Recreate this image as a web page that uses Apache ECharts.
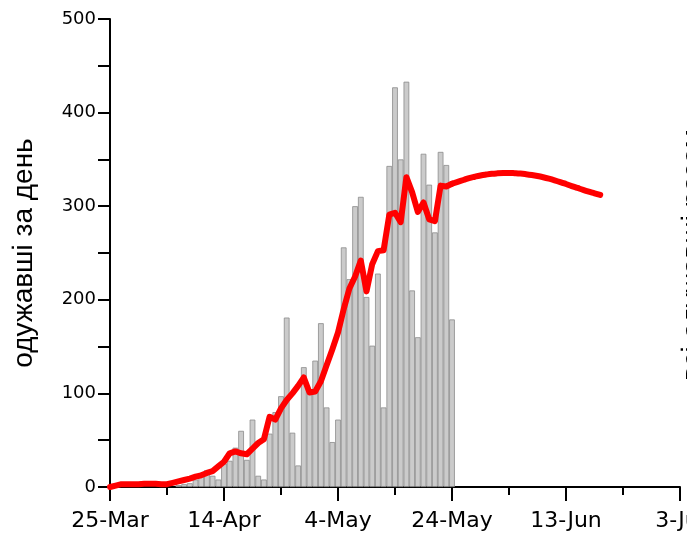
<!DOCTYPE html>
<html>
<head>
<meta charset="utf-8">
<script src="https://cdn.jsdelivr.net/npm/echarts@6/dist/echarts.min.js"></script>
<style>
  html, body { margin: 0; padding: 0; background: #fff; }
  #chart { width: 687px; height: 533px; }
</style>
</head>
<body>
<div id="chart"></div>
<script>
// x positions are days counted from 25 March
const tickLabels = ['25-Mar', '14-Apr', '4-May', '24-May', '13-Jun', '3-Jul'];

// daily recoveries (bars)
const barDays = [12, 13, 14, 15, 16, 17, 18, 19, 20, 21, 22, 23, 24, 25, 26, 27, 28, 29, 30,
  31, 32, 33, 34, 35, 36, 37, 38, 39, 40, 41, 42, 43, 44, 45, 46, 47, 48, 49, 50,
  51, 52, 53, 54, 55, 56, 57, 58, 59, 60];
const barValues = [2, 3, 4, 8, 15, 18, 12, 8, 25, 28, 42, 60, 29, 72, 12, 8, 57, 80, 97,
  181, 58, 23, 128, 102, 135, 175, 85, 48, 72, 256, 222, 300, 310, 203, 151, 228, 85, 343, 427,
  350, 433, 210, 160, 356, 323, 272, 358, 344, 179];

// smoothed daily recoveries
const avgDays = [0, 1, 2, 3, 4, 5, 6, 7, 8, 9, 10, 11, 12, 13, 14, 15, 16, 17, 18, 19, 20,
  21, 22, 23, 24, 25, 26, 27, 28, 29, 30, 31, 32, 33, 34, 35, 36, 37, 38, 39, 40,
  41, 42, 43, 44, 45, 46, 47, 48, 49, 50, 51, 52, 53, 54, 55, 56, 57, 58, 59, 60];
const avgValues = [0, 1.5, 3, 3, 3, 3, 3.5, 3.5, 3.5, 3, 3, 4.5, 6, 7.5, 9, 11, 12.5, 15, 17, 22, 27,
  36, 38, 36, 35, 41, 47, 51, 75, 72, 84, 93, 100, 108, 117, 101, 102, 113, 130, 147, 165,
  190, 212, 225, 242, 209, 238, 252, 253, 291, 293, 283, 331, 315, 294, 304, 286, 284, 322, 321, 324];

// projected continuation
const forecastDays = [60, 61, 62, 63, 64, 65, 66, 67, 68, 69, 70, 71, 72, 73, 74, 75, 76, 77,
  78, 79, 80, 81, 82, 83, 84, 85, 86];
const forecastValues = [324, 326, 328, 330, 331.5, 332.8, 333.8, 334.6, 335.1, 335.4, 335.5,
  335.3, 334.9, 334.2, 333.3, 332.2, 330.9, 329.4, 327.7, 325.8, 323.7, 321.5, 319.5, 317.5,
  315.6, 313.8, 312];

const yTitle = 'одужавші за день';
const rightTitle = 'всі одужавші разом';

const pair = (xs, ys) => xs.map((x, i) => [x, ys[i]]);

const chart = echarts.init(document.getElementById('chart'), null, { renderer: 'canvas' });

chart.setOption({
  animation: false,
  backgroundColor: '#fff',
  grid: { left: 110, right: 7, top: 19, bottom: 46, containLabel: false, outerBoundsMode: 'none' },
  xAxis: {
    type: 'value',
    min: 0,
    max: 100,
    interval: 20,
    axisLine: { show: true, onZero: false, lineStyle: { color: '#000', width: 2 } },
    axisTick: { show: true, length: 14, lineStyle: { color: '#000', width: 2 } },
    minorTick: { show: true, splitNumber: 2, length: 8, lineStyle: { color: '#000', width: 2 } },
    splitLine: { show: false },
    axisLabel: {
      margin: 23,
      fontFamily: 'DejaVu Sans',
      fontSize: 22,
      color: '#000',
      formatter: v => tickLabels[Math.round(v / 20)]
    }
  },
  yAxis: {
    type: 'value',
    min: 0,
    max: 500,
    interval: 100,
    name: yTitle,
    nameLocation: 'middle',
    nameGap: 72,
    nameTextStyle: { fontFamily: 'Liberation Sans', fontSize: 28, color: '#000' },
    axisLine: { show: true, lineStyle: { color: '#000', width: 2 } },
    axisTick: { show: true, length: 12, lineStyle: { color: '#000', width: 2 } },
    minorTick: { show: true, splitNumber: 2, length: 12, lineStyle: { color: '#000', width: 2 } },
    splitLine: { show: false },
    axisLabel: { margin: 14, fontFamily: 'DejaVu Sans', fontSize: 18, color: '#000' }
  },
  graphic: [{
    type: 'text',
    x: 679,
    y: 255,
    rotation: Math.PI / 2,
    style: {
      text: rightTitle,
      font: '28px "Liberation Sans"',
      fill: '#000',
      align: 'center',
      verticalAlign: 'top'
    }
  }],
  series: [
    {
      type: 'bar',
      data: pair(barDays, barValues),
      barWidth: 5.7,
      itemStyle: { color: '#cbcbcb', borderColor: '#8c8c8c', borderWidth: 0.8 },
      z: 1
    },
    {
      type: 'line',
      data: pair(avgDays, avgValues),
      showSymbol: false,
      lineStyle: { color: '#ff0000', width: 6, join: 'round', cap: 'round' },
      z: 3
    },
    {
      type: 'line',
      data: pair(forecastDays, forecastValues),
      showSymbol: false,
      smooth: true,
      lineStyle: { color: '#ff0000', width: 6, join: 'round', cap: 'round' },
      z: 3
    }
  ]
});
</script>
</body>
</html>
